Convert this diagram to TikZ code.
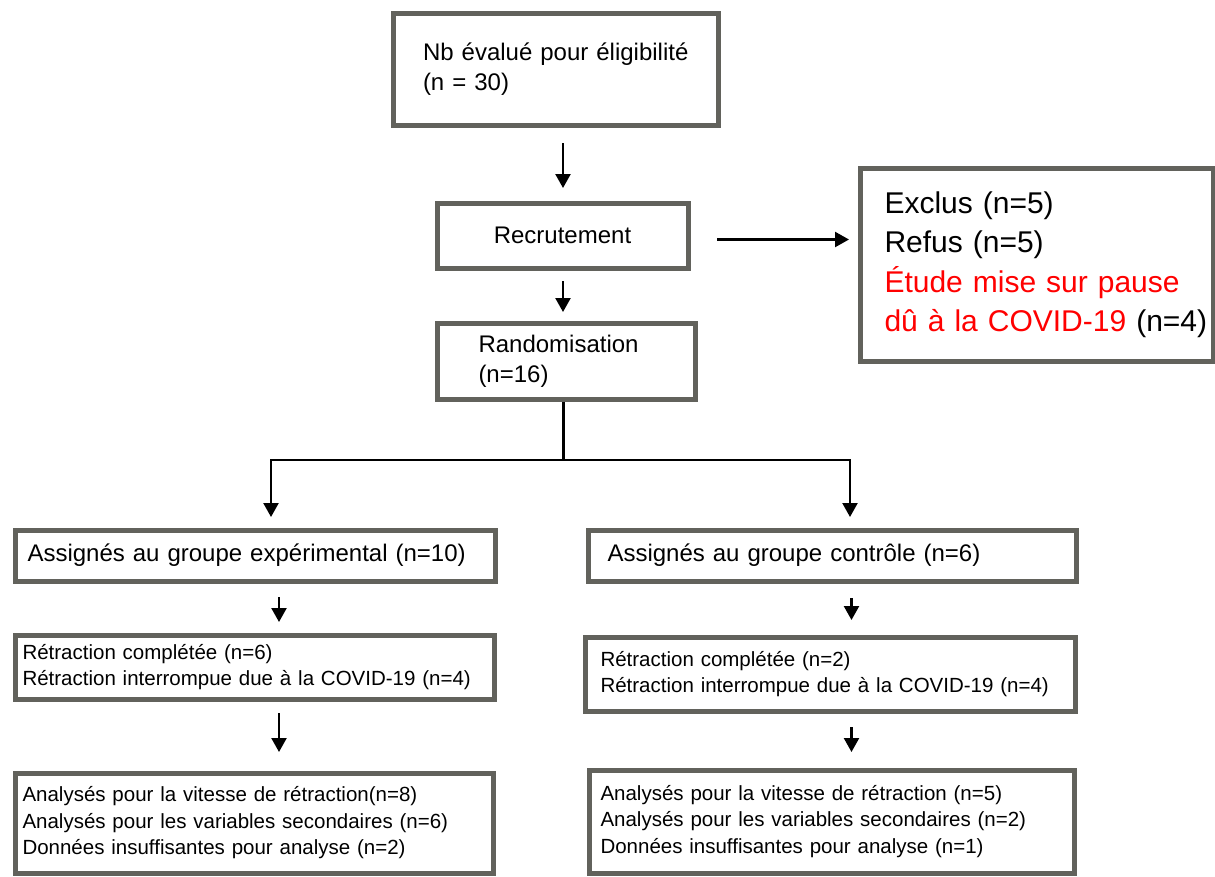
\documentclass[tikz,border=0pt]{standalone}
\usepackage{fontspec}
\setmainfont{Liberation Sans}
\usetikzlibrary{arrows.meta}
\definecolor{boxgray}{RGB}{98,98,92}
\definecolor{pausered}{RGB}{255,0,0}
\newcommand{\bigtxt}{\fontsize{24}{30}\selectfont}
\newcommand{\exctxt}{\fontsize{30}{39.5}\selectfont}
\newcommand{\smalltxt}{\fontsize{20.5}{26.5}\selectfont}
\begin{document}
\begin{tikzpicture}[x=1pt, y=-1pt, box/.style = {draw=boxgray, line width=5pt, fill=white, anchor=north west, align=left, inner ysep=0pt}, arr/.style = {-{Triangle[width=15pt,length=14pt]}, line width=2.3pt}]
\useasboundingbox (0,0) rectangle (1215,876);
\node[box, font=\bigtxt, text width=265pt, inner xsep=30pt, minimum height=112pt] (eval) at (390.5,10.5) {\mbox{Nb évalué pour éligibilité}\\(n = 30)};
\node[box, font=\bigtxt, align=center, minimum width=251pt, minimum height=65pt] (recr) at (434.5,200.5) {Recrutement};
\node[box, font=\bigtxt, text width=175pt, inner xsep=41.5pt, minimum height=76pt] (rand) at (434.5,320.5) {Randomisation\\(n=16)};
\node[box, font=\exctxt, text width=304pt, inner xsep=24.5pt, minimum height=193pt] (excl) at (857.5,165.5) {Exclus (n=5)\\Refus (n=5)\\\textcolor{pausered}{Étude mise sur pause}\\\mbox{\textcolor{pausered}{dû à la COVID-19} (n=4)}};
\node[box, font=\bigtxt, text width=455pt, inner xsep=12.5pt, minimum height=51pt] (expA) at (12.5,527.5) {Assignés au groupe expérimental (n=10)};
\node[box, font=\bigtxt, text width=449pt, inner xsep=19.5pt, minimum height=51pt] (ctlA) at (585.5,527.5) {Assignés au groupe contrôle (n=6)};
\node[box, font=\smalltxt, text width=464pt, inner xsep=7.5pt, minimum height=64pt] (expR) at (12.5,632.5) {Rétraction complétée (n=6)\\Rétraction interrompue due à la COVID-19 (n=4)};
\node[box, font=\smalltxt, text width=459pt, inner xsep=15.5pt, minimum height=74pt] (ctlR) at (582.5,634.5) {Rétraction complétée (n=2)\\Rétraction interrompue due à la COVID-19 (n=4)};
\node[box, font=\smalltxt, text width=463pt, inner xsep=7.5pt, minimum height=100pt] (expN) at (12.5,770.5) {Analysés pour la vitesse de rétraction(n=8)\\Analysés pour les variables secondaires (n=6)\\Données insuffisantes pour analyse (n=2)};
\node[box, font=\smalltxt, text width=462pt, inner xsep=11.5pt, minimum height=103pt] (ctlN) at (586.5,767.5) {Analysés pour la vitesse de rétraction (n=5)\\Analysés pour les variables secondaires (n=2)\\Données insuffisantes pour analyse (n=1)};
\coordinate (spine) at (563,0);
\coordinate (split) at (563,460);
\coordinate (lsplit) at (271,460);
\coordinate (rsplit) at (850,460);
\coordinate (lcol) at (279,0);
\coordinate (rcol) at (851.5,0);
\draw[arr, shorten <=15.5pt, shorten >=12.5pt] (eval.south -| spine) -- (recr.north -| spine);
\draw[arr, shorten <=26.5pt, shorten >=8.5pt] ([yshift=-4pt]recr.east) -- ([yshift=-4pt]recr.east -| excl.west);
\draw[arr, shorten <=10.5pt, shorten >=8.5pt] (recr.south -| spine) -- (rand.north -| spine);
\draw[line width=3pt] (rand.south -| split) -- (split);
\draw[arr, shorten >=10.5pt] (split) -| (expA.north -| lsplit);
\draw[arr, shorten >=10.5pt] (split) -| (ctlA.north -| rsplit);
\draw[arr, shorten <=13.5pt, shorten >=10.5pt] (expA.south -| lcol) -- (expR.north -| lcol);
\draw[arr, shorten <=11.5pt, shorten >=18.5pt] (expR.south -| lcol) -- (expN.north -| lcol);
\draw[arr, shorten <=14.5pt, shorten >=14.5pt] (ctlA.south -| rcol) -- (ctlR.north -| rcol);
\draw[arr, shorten <=13.5pt, shorten >=15.5pt] (ctlR.south -| rcol) -- (ctlN.north -| rcol);
\end{tikzpicture}
\end{document}
